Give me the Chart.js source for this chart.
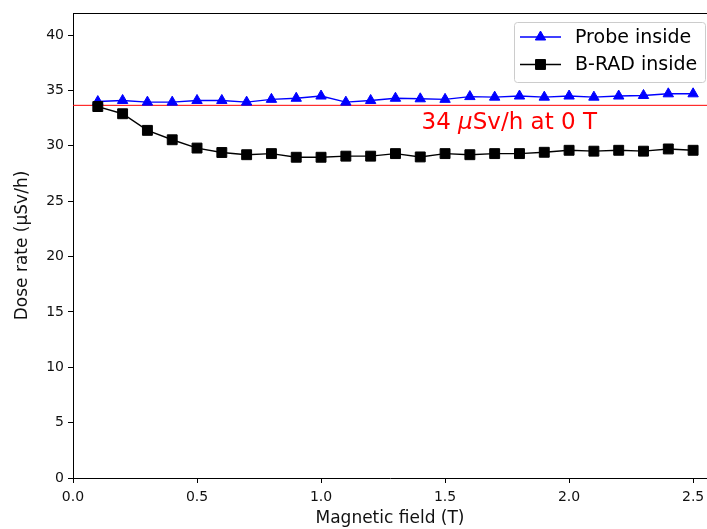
<!DOCTYPE html>
<html>
<head>
<meta charset="utf-8">
<script src="https://cdn.jsdelivr.net/npm/chart.js@4.4.1/dist/chart.umd.min.js"></script>
<style>
  html, body { margin: 0; padding: 0; background: #fff; }
  #wrap { width: 707px; height: 529px; }
</style>
</head>
<body>
<div id="wrap"><canvas id="chart"></canvas></div>
<script>
const field = [0.1, 0.2, 0.3, 0.4, 0.5, 0.6, 0.7, 0.8, 0.9, 1.0, 1.1, 1.2, 1.3,
  1.4, 1.5, 1.6, 1.7, 1.8, 1.9, 2.0, 2.1, 2.2, 2.3, 2.4, 2.5];
const probeInside = [34.0, 34.1, 33.95, 33.95, 34.1, 34.1, 33.95, 34.2, 34.3, 34.5, 33.95, 34.1, 34.3,
  34.25, 34.2, 34.45, 34.4, 34.5, 34.4, 34.5, 34.4, 34.5, 34.55, 34.7, 34.7];
const bradInside = [33.55, 32.9, 31.4, 30.55, 29.8, 29.4, 29.2, 29.3, 28.97, 28.97, 29.07, 29.07, 29.3,
  29.0, 29.3, 29.2, 29.3, 29.3, 29.42, 29.6, 29.52, 29.6, 29.52, 29.72, 29.6];
const refLevel = 33.66;
const xTicks = [0.0, 0.5, 1.0, 1.5, 2.0, 2.5];
const yTicks = [0, 5, 10, 15, 20, 25, 30, 35, 40];

const X_MIN = 0, X_MAX = 2.556, Y_MIN = 0, Y_MAX = 42;
const FONT = "'DejaVu Sans', sans-serif";

const toPts = (xs, ys) => xs.map((x, i) => ({ x, y: ys[i] }));

// top frame line + reference label + matplotlib-style legend
const extras = {
  id: "extras",
  afterDatasetsDraw(chart) {
    const { ctx, chartArea: a, scales } = chart;
    ctx.save();
    ctx.strokeStyle = "#000";
    ctx.lineWidth = 1;
    ctx.beginPath();
    ctx.moveTo(a.left, a.top + 0.5);
    ctx.lineTo(chart.width, a.top + 0.5);
    ctx.stroke();

    // "34 μSv/h at 0 T" with italic mu like mathtext
    ctx.fillStyle = "#ff0000";
    ctx.textBaseline = "middle";
    let tx = scales.x.getPixelForValue(1.405);
    const ty = scales.y.getPixelForValue(32.1);
    const parts = [["34 ", ""], ["\u03bc", "italic "], ["Sv/h at 0 T", ""]];
    parts.forEach(([s, st]) => {
      ctx.font = st + "23px " + FONT;
      ctx.fillText(s, tx, ty);
      tx += ctx.measureText(s).width;
    });

    // legend
    const lx = 514, ly = 22, lw = 191, lh = 60;
    ctx.fillStyle = "rgba(255,255,255,0.8)";
    ctx.strokeStyle = "#cccccc";
    ctx.lineWidth = 1;
    ctx.beginPath();
    ctx.roundRect(lx + 0.5, ly + 0.5, lw, lh, 3);
    ctx.fill();
    ctx.stroke();
    [0, 1].map(i => chart.data.datasets[i]).forEach((ds, i) => {
      const y = ly + 15 + i * 27.5;
      ctx.strokeStyle = ds.borderColor;
      ctx.lineWidth = ds.borderWidth;
      ctx.beginPath();
      ctx.moveTo(520, y);
      ctx.lineTo(561, y);
      ctx.stroke();
      ctx.fillStyle = ds.pointBackgroundColor;
      ctx.strokeStyle = ds.pointBorderColor;
      ctx.lineWidth = 1;
      Chart.helpers.drawPoint(ctx, {
        pointStyle: ds.pointStyle, radius: ds.pointRadius, borderWidth: 1
      }, 540.5, y);
      ctx.fillStyle = "#000";
      ctx.font = "19px " + FONT;
      ctx.textBaseline = "middle";
      ctx.fillText(ds.label, 575, y + 1);
    });
    ctx.restore();
  }
};

new Chart(document.getElementById("chart"), {
  type: "line",
  data: {
    datasets: [
      {
        label: "Probe inside",
        data: toPts(field, probeInside),
        borderColor: "#0000ff",
        backgroundColor: "#0000ff",
        pointBackgroundColor: "#0000ff",
        pointBorderColor: "#0000ff",
        borderWidth: 1.4,
        pointStyle: "triangle",
        pointRadius: 6,
        pointBorderWidth: 1,
        order: 2
      },
      {
        label: "B-RAD inside",
        data: toPts(field, bradInside),
        borderColor: "#000000",
        backgroundColor: "#000000",
        pointBackgroundColor: "#000000",
        pointBorderColor: "#000000",
        borderWidth: 1.4,
        pointStyle: "rect",
        pointRadius: 7,
        pointBorderWidth: 1,
        order: 1
      },
      {
        label: "ref",
        data: [{ x: X_MIN, y: refLevel }, { x: X_MAX, y: refLevel }],
        borderColor: "#ff0000",
        borderWidth: 1,
        pointRadius: 0,
        order: 3
      }
    ]
  },
  options: {
    responsive: true,
    maintainAspectRatio: false,
    animation: false,
    layout: { autoPadding: false, padding: { top: 13, right: 0, left: 0, bottom: 0 } },
    plugins: {
      legend: { display: false },
      tooltip: { enabled: false }
    },
    scales: {
      x: {
        type: "linear",
        min: X_MIN,
        max: X_MAX,
        afterFit(s) { s.height = 51; s.paddingLeft = 0; s.paddingRight = 0; },
        afterBuildTicks(s) { s.ticks = xTicks.map(v => ({ value: v })); },
        grid: { drawOnChartArea: false, drawTicks: true, tickLength: 5, color: "#000", tickColor: "#000" },
        border: { display: true, color: "#000", width: 1 },
        ticks: {
          color: "#111",
          font: { family: FONT, size: 14 },
          padding: 6,
          maxRotation: 0,
          callback: v => v.toFixed(1)
        },
        title: {
          display: true,
          text: "Magnetic field (T)",
          color: "#111",
          font: { family: FONT, size: 17 },
          padding: { top: 2, bottom: 0 }
        }
      },
      y: {
        type: "linear",
        min: Y_MIN,
        max: Y_MAX,
        afterFit(s) { s.width = 73; s.paddingTop = 0; s.paddingBottom = 0; },
        afterBuildTicks(s) { s.ticks = yTicks.map(v => ({ value: v })); },
        grid: { drawOnChartArea: false, drawTicks: true, tickLength: 5, color: "#000", tickColor: "#000" },
        border: { display: true, color: "#000", width: 1 },
        ticks: {
          color: "#111",
          font: { family: FONT, size: 14 },
          padding: 4,
          callback: v => String(v)
        },
        title: {
          display: true,
          text: "Dose rate (\u03bcSv/h)",
          color: "#111",
          font: { family: FONT, size: 17 },
          padding: { top: 12, bottom: 4 }
        }
      }
    }
  },
  plugins: [extras]
});
</script>
</body>
</html>
